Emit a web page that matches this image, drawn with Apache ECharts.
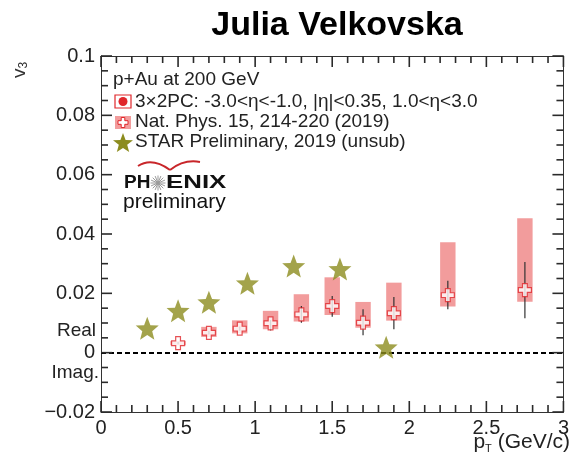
<!DOCTYPE html>
<html>
<head>
<meta charset="utf-8">
<script src="https://cdn.jsdelivr.net/npm/echarts@6/dist/echarts.min.js"></script>
<style>
  html, body { margin: 0; padding: 0; background: #fff; }
  #chart { width: 572px; height: 458px; }
</style>
</head>
<body>
<div id="chart"></div>
<script>
// PHENIX p+Au v3 measurement (Nat. Phys. 15, 214-220)
const ptPhenix   = [0.5, 0.7, 0.9, 1.1, 1.3, 1.5, 1.7, 1.9, 2.25, 2.75];
const v3Phenix   = [0.0032, 0.0067, 0.0081, 0.0099, 0.0129, 0.0157, 0.0101, 0.0133, 0.0194, 0.0211];
const statLow    = [0.0028, 0.0061, 0.0074, 0.0075, 0.0101, 0.0121, 0.0059, 0.0079, 0.0146, 0.0116];
const statHigh   = [0.0036, 0.0073, 0.0088, 0.0110, 0.0157, 0.0191, 0.0146, 0.0188, 0.0242, 0.0306];
const sysLow     = [0.0025, 0.0053, 0.0065, 0.0079, 0.0105, 0.0127, 0.0084, 0.0108, 0.0156, 0.0172];
const sysHigh    = [0.0039, 0.0087, 0.0109, 0.0141, 0.0197, 0.0254, 0.0171, 0.0236, 0.0372, 0.0453];
const sysHalfWidth = 0.05;

// STAR preliminary, 2019 (unsubtracted)
const ptStar = [0.3, 0.5, 0.7, 0.95, 1.25, 1.55, 1.85];
const v3Star = [0.0082, 0.0141, 0.0170, 0.0234, 0.0292, 0.0282, 0.0018];

// Axis ranges and ticks
const xTicks = [0, 0.5, 1, 1.5, 2, 2.5, 3];
const yTicks = [-0.02, 0, 0.02, 0.04, 0.06, 0.08, 0.1];
const xMinorStep = 0.1;
const yMinorStep = 0.005;

const FONT = 'Liberation Sans, Arial, sans-serif';
const PINK = '#f29c9c';
const RED = '#e0262a';
const OLIVE = '#8c8c1e';

const STAR_PATH = 'path://M0,-10 L2.6,-3.4 L9.5,-3.1 L4.1,1.3 L5.9,8.1 L0,4.3 L-5.9,8.1 L-4.1,1.3 L-9.5,-3.1 L-2.6,-3.4 Z';
const CROSS_PATH = 'path://M-1.1,-3 L1.1,-3 L1.1,-1.1 L3,-1.1 L3,1.1 L1.1,1.1 L1.1,3 L-1.1,3 L-1.1,1.1 L-3,1.1 L-3,-1.1 L-1.1,-1.1 Z';

function starPoints(cx, cy, R, r) {
  const pts = [];
  for (let k = 0; k < 10; k++) {
    const ang = -Math.PI / 2 + k * Math.PI / 5;
    const rad = k % 2 === 0 ? R : r;
    pts.push([cx + rad * Math.cos(ang), cy + rad * Math.sin(ang)]);
  }
  return pts;
}
function crossPoints(cx, cy, a, b) {
  return [[-b, -a], [b, -a], [b, -b], [a, -b], [a, b], [b, b], [b, a], [-b, a], [-b, b], [-a, b], [-a, -b], [-b, -b]]
    .map(p => [cx + p[0], cy + p[1]]);
}

const chart = echarts.init(document.getElementById('chart'), null, { renderer: 'canvas' });

const sysData = ptPhenix.map((p, i) => [p, sysLow[i], sysHigh[i]]);
const statData = ptPhenix.map((p, i) => [p, statLow[i], statHigh[i]]);
const phenixPts = ptPhenix.map((p, i) => [p, v3Phenix[i]]);
const starPts = ptStar.map((p, i) => [p, v3Star[i]]);

const xMin = xTicks[0], xMax = xTicks[xTicks.length - 1];
const yMin = yTicks[0], yMax = yTicks[yTicks.length - 1];

// frame tick positions: [x, y, kind, major]; every item lies on the frame
const frameTickData = [];
const nxTicks = Math.round((xMax - xMin) / xMinorStep);
for (let i = 0; i <= nxTicks; i++) {
  frameTickData.push([+(xMin + i * xMinorStep).toFixed(3), yMin, 0, i % 5 === 0 ? 1 : 0]);
}
const nyTicks = Math.round((yMax - yMin) / yMinorStep);
for (let i = 0; i <= nyTicks; i++) {
  frameTickData.push([xMin, +(yMin + i * yMinorStep).toFixed(4), 1, i % 4 === 0 ? 1 : 0]);
}

function axisBase(pos) {
  return {
    type: 'value', position: pos,
    axisLine: { show: true, onZero: false, lineStyle: { color: '#333', width: 1 } },
    axisTick: { show: false },
    splitLine: { show: false }
  };
}

const starburst = [];
for (let k = 0; k < 16; k++) {
  const ang = k * Math.PI / 8;
  starburst.push({
    type: 'line',
    shape: { x1: 158, y1: 183, x2: 158 + 7.5 * Math.cos(ang), y2: 183 + 7.5 * Math.sin(ang) },
    style: { stroke: '#9a9a9a', lineWidth: 1 }
  });
}

// Text, legend and logo decorations
const decor = [
  // y-axis title
  {
    type: 'text', id: 'yname', x: 10, y: 78, rotation: Math.PI / 2, originX: 0, originY: 0,
    style: {
      text: '{v|v}{s|3}',
      rich: {
        v: { fontFamily: FONT, fontSize: 19, fill: '#333' },
        s: { fontFamily: FONT, fontSize: 12, fill: '#333', padding: [8, 0, 0, 0] }
      }
    }
  },
  // x-axis title
  {
    type: 'text', id: 'xname', x: 570, y: 430,
    style: {
      align: 'right',
      text: '{p|p}{s|T}{p| (GeV/c)}',
      rich: {
        p: { fontFamily: FONT, fontSize: 21, fill: '#222' },
        s: { fontFamily: FONT, fontSize: 11, fill: '#222', padding: [13, 0, 0, 0] }
      }
    }
  },
  // Real / Imag. region labels
  { type: 'text', id: 'real', x: 96, y: 331, style: { text: 'Real', font: '19px ' + FONT, fill: '#222', align: 'right', verticalAlign: 'middle' } },
  { type: 'text', id: 'imag', x: 99, y: 373, style: { text: 'Imag.', font: '19px ' + FONT, fill: '#222', align: 'right', verticalAlign: 'middle' } },

  // Legend block
  { type: 'text', id: 'lg0', x: 113, y: 80, style: { text: 'p+Au at 200 GeV', font: '19px ' + FONT, fill: '#222', verticalAlign: 'middle' } },
  { type: 'rect', id: 'lg1box', shape: { x: 115, y: 95, width: 16, height: 13 }, style: { fill: '#fff', stroke: RED, lineWidth: 1.2 } },
  { type: 'circle', id: 'lg1dot', shape: { cx: 123, cy: 101.5, r: 4.5 }, style: { fill: RED } },
  { type: 'text', id: 'lg1', x: 135, y: 101.5, style: { text: '3×2PC: -3.0<η<-1.0, |η|<0.35, 1.0<η<3.0', font: '19px ' + FONT, fill: '#222', verticalAlign: 'middle' } },
  { type: 'rect', id: 'lg2box', shape: { x: 115, y: 116, width: 16, height: 13 }, style: { fill: PINK } },
  { type: 'polygon', id: 'lg2cross', shape: { points: crossPoints(123, 122.5, 5, 1.8) }, style: { fill: '#fff', stroke: RED, lineWidth: 1 } },
  { type: 'text', id: 'lg2', x: 135, y: 122, style: { text: 'Nat. Phys. 15, 214-220 (2019)', font: '19px ' + FONT, fill: '#222', verticalAlign: 'middle' } },
  { type: 'polygon', id: 'lg3star', shape: { points: starPoints(123, 143.5, 10.5, 4.4) }, style: { fill: OLIVE } },
  { type: 'text', id: 'lg3', x: 135, y: 142, style: { text: 'STAR Preliminary, 2019 (unsub)', font: '19px ' + FONT, fill: '#222', verticalAlign: 'middle' } },

  // PHENIX logo
  { type: 'bezierCurve', id: 'arcL', shape: { x1: 138, y1: 166, cpx1: 152, cpy1: 157, x2: 170, y2: 170 }, style: { fill: 'none', stroke: '#c8262a', lineWidth: 2 } },
  { type: 'bezierCurve', id: 'arcR', shape: { x1: 170, y1: 170, cpx1: 184, cpy1: 159, x2: 200, y2: 162 }, style: { fill: 'none', stroke: '#c8262a', lineWidth: 2 } },
  { type: 'text', id: 'ph', x: 124, y: 183, style: { text: 'PH', font: 'bold 19px ' + FONT, fill: '#111', verticalAlign: 'middle' } },
  { type: 'group', id: 'burst', children: starburst },
  { type: 'text', id: 'enix', x: 166, y: 183, scaleX: 1.36, originX: 0, originY: 0, style: { text: 'ENIX', font: 'bold 19px ' + FONT, fill: '#111', verticalAlign: 'middle' } },
  { type: 'text', id: 'prelim', x: 123, y: 202, style: { text: 'preliminary', font: '21px ' + FONT, fill: '#111', verticalAlign: 'middle' } }
];

const option = {
  animation: false,
  backgroundColor: '#fff',
  title: {
    text: 'Julia Velkovska',
    left: 332, top: 4, textAlign: 'center',
    textStyle: { fontFamily: FONT, fontWeight: 'bold', fontSize: 34, color: '#000' }
  },
  grid: { left: 101, top: 56, right: 7, bottom: 46 },
  xAxis: [
    Object.assign(axisBase('bottom'), {
      min: xMin, max: xMax, interval: 0.5,
      axisLabel: { show: true, margin: 6, fontFamily: FONT, fontSize: 20, color: '#222' }
    }),
    Object.assign(axisBase('top'), { min: xMin, max: xMax, interval: 0.5, axisLabel: { show: false } })
  ],
  yAxis: [
    Object.assign(axisBase('left'), {
      min: yMin, max: yMax, interval: 0.02,
      axisLabel: {
        show: true, margin: 6, fontFamily: FONT, fontSize: 20, color: '#222',
        formatter: v => (Math.abs(v) < 1e-9 ? '0' : String(+v.toFixed(2)).replace('-', '\u2212'))
      }
    }),
    Object.assign(axisBase('right'), { min: yMin, max: yMax, interval: 0.02, axisLabel: { show: false } })
  ],
  series: [
    {
      name: 'frame ticks',
      type: 'custom',
      silent: true,
      clip: false,
      encode: { x: 0, y: 1 },
      data: frameTickData,
      renderItem: function (params, api) {
        const kind = api.value(2);
        const len = api.value(3) ? 11 : 7;
        let lines;
        if (kind === 0) {
          const b = api.coord([api.value(0), yMin]);
          const t = api.coord([api.value(0), yMax]);
          lines = [[b[0], b[1], b[0], b[1] - len], [t[0], t[1], t[0], t[1] + len]];
        } else {
          const l = api.coord([xMin, api.value(1)]);
          const r = api.coord([xMax, api.value(1)]);
          lines = [[l[0], l[1], l[0] + len, l[1]], [r[0], r[1], r[0] - len, r[1]]];
        }
        return {
          type: 'group',
          children: lines.map(s => ({
            type: 'line',
            shape: { x1: s[0], y1: s[1], x2: s[2], y2: s[3] },
            style: { stroke: '#2a2a2a', lineWidth: 1.6 }
          }))
        };
      },
      z: 6
    },
    {
      name: 'sys',
      type: 'custom',
      data: sysData,
      renderItem: function (params, api) {
        const p = api.value(0), lo = api.value(1), hi = api.value(2);
        const a = api.coord([p - sysHalfWidth, hi]);
        const b = api.coord([p + sysHalfWidth, lo]);
        return {
          type: 'rect',
          shape: { x: a[0], y: a[1], width: b[0] - a[0], height: b[1] - a[1] },
          style: { fill: PINK }
        };
      },
      z: 2
    },
    {
      name: 'stat',
      type: 'custom',
      data: statData,
      renderItem: function (params, api) {
        const p = api.value(0);
        const a = api.coord([p, api.value(2)]);
        const b = api.coord([p, api.value(1)]);
        return {
          type: 'line',
          shape: { x1: a[0], y1: a[1], x2: b[0], y2: b[1] },
          style: { stroke: '#333', lineWidth: 1.2 }
        };
      },
      z: 3
    },
    {
      name: 'Nat. Phys. 15, 214-220 (2019)',
      type: 'scatter',
      data: phenixPts,
      symbol: CROSS_PATH,
      symbolSize: 13,
      itemStyle: { color: '#fff', borderColor: RED, borderWidth: 1.2 },
      z: 4,
      markLine: {
        silent: true,
        symbol: ['none', 'none'],
        label: { show: false },
        lineStyle: { color: '#000', type: [5, 3], width: 2.2 },
        data: [{ yAxis: 0 }]
      }
    },
    {
      name: 'STAR Preliminary, 2019 (unsub)',
      type: 'scatter',
      data: starPts,
      symbol: STAR_PATH,
      symbolSize: 23,
      itemStyle: { color: OLIVE },
      z: 5
    }
  ],
  graphic: { elements: decor }
};

chart.setOption(option);
</script>
</body>
</html>
